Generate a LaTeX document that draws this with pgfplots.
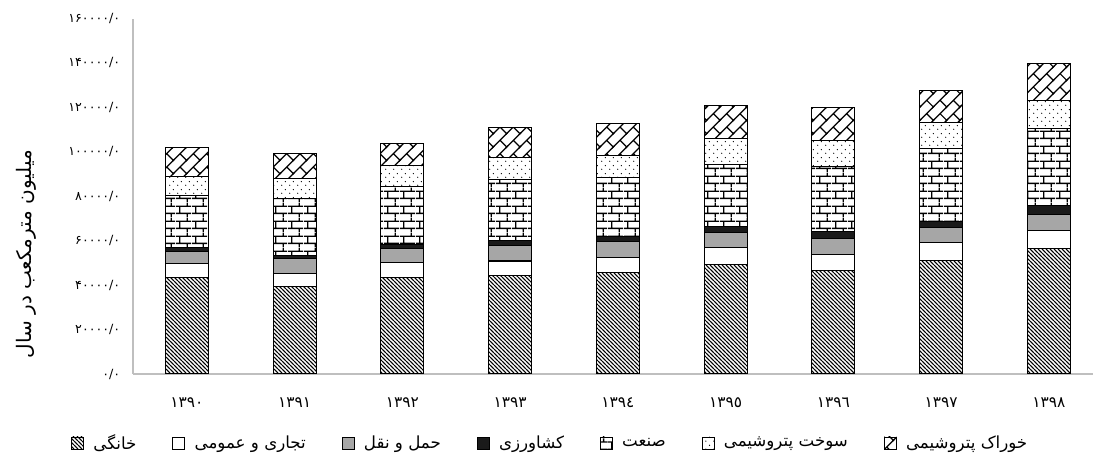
\documentclass[border=0pt]{standalone}
\usepackage{fontspec}
\usepackage{pgfplots}
\pgfplotsset{compat=1.18}
\usepackage{pgfplotstable}
\usetikzlibrary{patterns}
\setmainfont{DejaVu Sans}
\newfontfamily\arabicfont[Script=Arabic]{DejaVu Sans}
\TeXXeTstate=1

\pgfdeclarepatternformonly{hhatch}{\pgfpoint{-1pt}{-1pt}}{\pgfpoint{4pt}{4pt}}{\pgfpoint{3pt}{3pt}}{%
  \pgfsetlinewidth{0.75pt}%
  \pgfpathmoveto{\pgfpoint{-1pt}{4pt}}\pgfpathlineto{\pgfpoint{4pt}{-1pt}}%
  \pgfusepath{stroke}}
\pgfdeclarepatternformonly{mybricks}{\pgfpoint{0pt}{0pt}}{\pgfpoint{12pt}{11pt}}{\pgfpoint{12pt}{11pt}}{%
  \pgfsetlinewidth{1.1pt}%
  \pgfpathmoveto{\pgfpoint{0pt}{2.75pt}}\pgfpathlineto{\pgfpoint{12pt}{2.75pt}}%
  \pgfpathmoveto{\pgfpoint{0pt}{8.25pt}}\pgfpathlineto{\pgfpoint{12pt}{8.25pt}}%
  \pgfpathmoveto{\pgfpoint{3pt}{2.75pt}}\pgfpathlineto{\pgfpoint{3pt}{8.25pt}}%
  \pgfpathmoveto{\pgfpoint{9pt}{8.25pt}}\pgfpathlineto{\pgfpoint{9pt}{11pt}}%
  \pgfpathmoveto{\pgfpoint{9pt}{0pt}}\pgfpathlineto{\pgfpoint{9pt}{2.75pt}}%
  \pgfusepath{stroke}}
\pgfdeclarepatternformonly{sdots}{\pgfpoint{0pt}{0pt}}{\pgfpoint{6pt}{6pt}}{\pgfpoint{6pt}{6pt}}{%
  \pgfpathcircle{\pgfpoint{1.5pt}{1.5pt}}{0.55pt}%
  \pgfpathcircle{\pgfpoint{4.5pt}{4.5pt}}{0.55pt}%
  \pgfusepath{fill}}
\pgfdeclarepatternformonly{diagbricks}{\pgfpoint{-1pt}{-1pt}}{\pgfpoint{11pt}{11pt}}{\pgfpoint{10pt}{10pt}}{%
  \pgfsetlinewidth{0.9pt}%
  \pgfpathmoveto{\pgfpoint{-1pt}{-1pt}}\pgfpathlineto{\pgfpoint{11pt}{11pt}}%
  \pgfpathmoveto{\pgfpoint{5pt}{5pt}}\pgfpathlineto{\pgfpoint{10pt}{0pt}}%
  \pgfusepath{stroke}}

\definecolor{axisgray}{HTML}{BFBFBF}
\definecolor{trgray}{HTML}{A6A6A6}
\definecolor{agblack}{HTML}{1A1A1A}

\pgfplotstableread{
x hh co tr ag ind fu fe
0 43500 6250 5550 1450 23450 8900 13000
1 39200 6050 6650 1400 25800 8750 11300
2 43550 6500 6450 1800 26100 9300 10150
3 44500 6350 6800 2250 27600 10150 13100
4 45550 7050 6950 2250 26700 9750 14350
5 49300 7550 7050 2700 27900 11650 14500
6 46600 7250 7100 3000 29600 11600 14650
7 51250 7850 7050 2700 32450 12100 14300
8 56400 8300 7250 3750 34700 12800 16600
}\datatable

\newcommand\lgd[1]{\hspace*{5pt}\beginR #1\endR}

\begin{document}
\begin{tikzpicture}
\begin{axis}[
  name=ax, at={(0,0)}, anchor=south west,
  scale only axis, width=720pt, height=266.6pt,
  ybar stacked, bar width=32.25pt,
  xmin=-0.5, xmax=8.41, ymin=0, ymax=160000,
  scaled y ticks=false,
  xtick={0,...,8},
  xticklabels={۱۳۹۰,۱۳۹۱,۱۳۹۲,۱۳۹۳,۱۳۹٤,۱۳۹٥,۱۳۹٦,۱۳۹۷,۱۳۹۸},
  ytick={0,20000,40000,60000,80000,100000,120000,140000,160000},
  yticklabels={۰/۰,۲۰۰۰۰/۰,۴۰۰۰۰/۰,۶۰۰۰۰/۰,۸۰۰۰۰/۰,۱۰۰۰۰۰/۰,۱۲۰۰۰۰/۰,۱۴۰۰۰۰/۰,۱۶۰۰۰۰/۰},
  axis x line*=bottom, axis y line*=left,
  axis line style={draw=axisgray, line width=0.8pt, -},
  major tick length=0pt, tick style={draw=none},
  xticklabel style={font=\arabicfont\fontsize{11.5}{13}\selectfont, yshift=-14pt},
  yticklabel style={font=\arabicfont\fontsize{9.5}{11}\selectfont, xshift=-6pt},
  ylabel={\beginR میلیون مترمکعب در سال\endR},
  every axis y label/.style={at={(axis description cs:-0.1108,0.337)}, rotate=90, anchor=center, font=\arabicfont\fontsize{15}{17}\selectfont},
  every axis plot post/.append style={legend image code/.code={\draw[#1,line width=0.6pt] (0pt,-4.5pt) rectangle (9pt,4.5pt);}},
  legend columns=7,
  legend style={at={(axis description cs:0.435,-0.194)}, anchor=center, draw=none,
    font=\arabicfont\fontsize{12.5}{14}\selectfont,
    /tikz/every even column/.append style={column sep=25pt}},
]
\addplot[draw=black, line width=0.8pt, pattern=hhatch, pattern color=black] table[x=x,y=hh]{\datatable};
\addplot[fill=white, draw=black, line width=0.8pt] table[x=x,y=co]{\datatable};
\addplot[fill=trgray, draw=black, line width=0.8pt] table[x=x,y=tr]{\datatable};
\addplot[fill=agblack, draw=black, line width=0.8pt] table[x=x,y=ag]{\datatable};
\addplot[draw=black, line width=0.8pt, pattern=mybricks, pattern color=black] table[x=x,y=ind]{\datatable};
\addplot[draw=black, line width=0.8pt, pattern=sdots, pattern color=black] table[x=x,y=fu]{\datatable};
\addplot[draw=black, line width=0.8pt, pattern=diagbricks, pattern color=black] table[x=x,y=fe]{\datatable};
\legend{{\lgd{خانگی}},{\lgd{تجاری و عمومی}},{\lgd{حمل و نقل}},{\lgd{کشاورزی}},{\lgd{صنعت}},{\lgd{سوخت پتروشیمی}},{\lgd{خوراک پتروشیمی}}}
\end{axis}
\pgfresetboundingbox
\path (-99.75pt,-69.75pt) rectangle (720pt,280.5pt);
\end{tikzpicture}
\end{document}
